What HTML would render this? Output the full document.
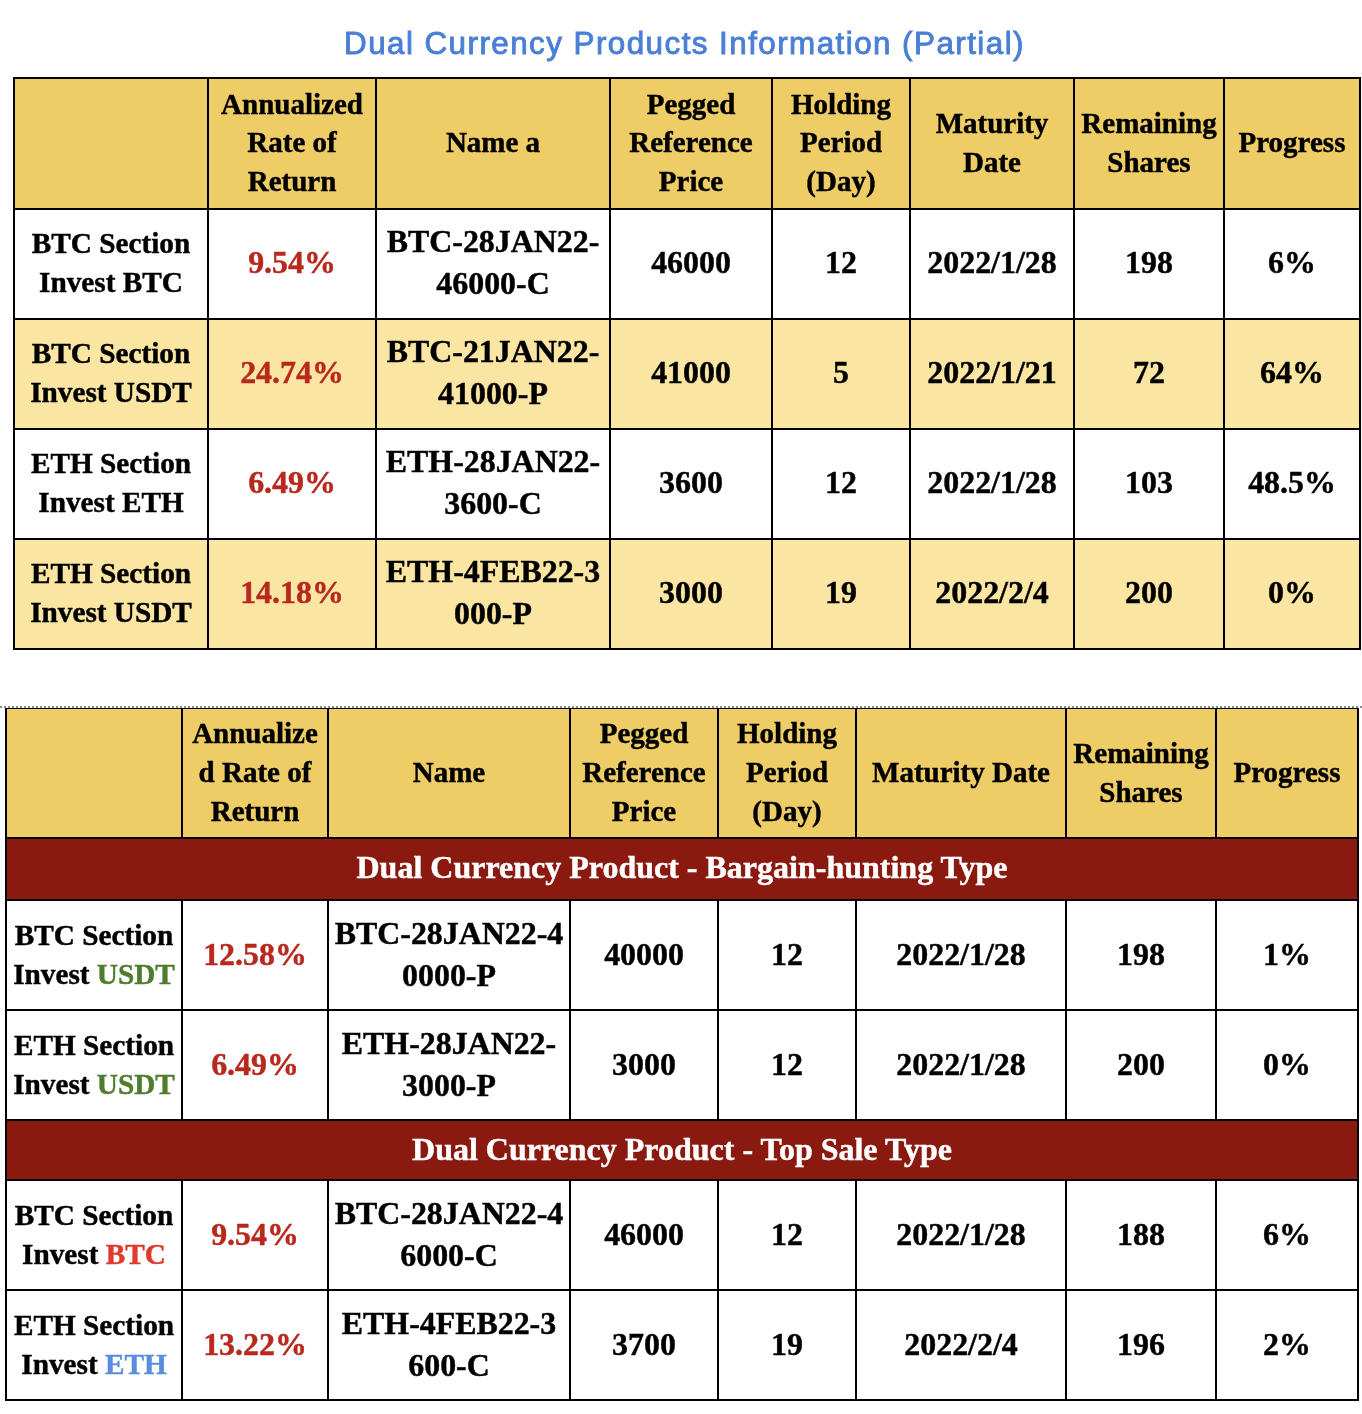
<!DOCTYPE html>
<html><head><meta charset="utf-8"><title>Dual Currency Products Information</title>
<style>
html,body{margin:0;padding:0;background:#fff}
body{width:1362px;height:1414px;position:relative;overflow:hidden;font-family:"Liberation Serif", "Noto Serif CJK SC", serif;font-weight:bold;color:#000}
.c{position:absolute;display:flex;align-items:center;justify-content:center;text-align:center;white-space:nowrap;box-sizing:border-box}
.c span{display:block}
.bg{position:absolute}
.l{position:absolute;background:#000}
.c span{position:relative;-webkit-text-stroke:0.45px currentColor}
.h{font-size:29px;line-height:38.4px}
.h span{top:-1.1px}
.f{font-size:29.25px;line-height:38.7px}
.f span{top:-1.5px}
.b{font-size:31.9px;line-height:42.5px}
.b span{top:-1.0px}
.h2{line-height:38.8px}
.h2 span{top:-1.1px}
.f2{line-height:39.2px}
.f2 span{top:-0.2px}
.b2 span{top:0px}
.s{font-size:32px;line-height:39px;color:#fff}
.s span{top:-1.5px}
.title{position:absolute;left:1px;top:23px;width:1367px;text-align:center;font-family:"Liberation Sans","Noto Sans CJK SC",sans-serif;font-weight:normal;font-size:31.4px;letter-spacing:1.44px;-webkit-text-stroke:0.9px #4A7FD6;line-height:42px;color:#4A7FD6;white-space:nowrap}
.dot{position:absolute;left:0;top:706px;width:1362px;height:2px;background:repeating-linear-gradient(90deg,#8a8a8a 0,#8a8a8a 2px,transparent 2px,transparent 4px)}
</style></head><body>
<div class="title">Dual Currency Products Information (Partial)</div>
<div class="bg" style="left:14px;top:78px;width:1346px;height:131px;background:#EFCD66"></div>
<div class="c h h1" style="left:208px;top:78px;width:168px;height:131px;"><span style="">Annualized<br>Rate of<br>Return</span></div>
<div class="c h h1" style="left:376px;top:78px;width:234px;height:131px;"><span style="">Name a</span></div>
<div class="c h h1" style="left:610px;top:78px;width:162px;height:131px;"><span style="">Pegged<br>Reference<br>Price</span></div>
<div class="c h h1" style="left:772px;top:78px;width:138px;height:131px;"><span style="">Holding<br>Period<br>(Day)</span></div>
<div class="c h h1" style="left:910px;top:78px;width:164px;height:131px;line-height:38.7px"><span style="top:-0.9px">Maturity<br>Date</span></div>
<div class="c h h1" style="left:1074px;top:78px;width:150px;height:131px;line-height:38.7px"><span style="top:-0.9px">Remaining<br>Shares</span></div>
<div class="c h h1" style="left:1224px;top:78px;width:136px;height:131px;"><span style="">Progress</span></div>
<div class="c f f1" style="left:14px;top:209px;width:194px;height:110px;"><span style="">BTC Section<br>Invest BTC</span></div>
<div class="c b b1" style="left:208px;top:209px;width:168px;height:110px;"><span style="color:#B8281D">9.54%</span></div>
<div class="c b b1" style="left:376px;top:209px;width:234px;height:110px;"><span style="">BTC-28JAN22-<br>46000-C</span></div>
<div class="c b b1" style="left:610px;top:209px;width:162px;height:110px;"><span style="">46000</span></div>
<div class="c b b1" style="left:772px;top:209px;width:138px;height:110px;"><span style="">12</span></div>
<div class="c b b1" style="left:910px;top:209px;width:164px;height:110px;"><span style="">2022/1/28</span></div>
<div class="c b b1" style="left:1074px;top:209px;width:150px;height:110px;"><span style="">198</span></div>
<div class="c b b1" style="left:1224px;top:209px;width:136px;height:110px;"><span style="">6%</span></div>
<div class="bg" style="left:14px;top:319px;width:1346px;height:110px;background:#FAE5A2"></div>
<div class="c f f1" style="left:14px;top:319px;width:194px;height:110px;"><span style="">BTC Section<br>Invest USDT</span></div>
<div class="c b b1" style="left:208px;top:319px;width:168px;height:110px;"><span style="color:#B8281D">24.74%</span></div>
<div class="c b b1" style="left:376px;top:319px;width:234px;height:110px;"><span style="">BTC-21JAN22-<br>41000-P</span></div>
<div class="c b b1" style="left:610px;top:319px;width:162px;height:110px;"><span style="">41000</span></div>
<div class="c b b1" style="left:772px;top:319px;width:138px;height:110px;"><span style="">5</span></div>
<div class="c b b1" style="left:910px;top:319px;width:164px;height:110px;"><span style="">2022/1/21</span></div>
<div class="c b b1" style="left:1074px;top:319px;width:150px;height:110px;"><span style="">72</span></div>
<div class="c b b1" style="left:1224px;top:319px;width:136px;height:110px;"><span style="">64%</span></div>
<div class="c f f1" style="left:14px;top:429px;width:194px;height:110px;"><span style="">ETH Section<br>Invest ETH</span></div>
<div class="c b b1" style="left:208px;top:429px;width:168px;height:110px;"><span style="color:#B8281D">6.49%</span></div>
<div class="c b b1" style="left:376px;top:429px;width:234px;height:110px;"><span style="">ETH-28JAN22-<br>3600-C</span></div>
<div class="c b b1" style="left:610px;top:429px;width:162px;height:110px;"><span style="">3600</span></div>
<div class="c b b1" style="left:772px;top:429px;width:138px;height:110px;"><span style="">12</span></div>
<div class="c b b1" style="left:910px;top:429px;width:164px;height:110px;"><span style="">2022/1/28</span></div>
<div class="c b b1" style="left:1074px;top:429px;width:150px;height:110px;"><span style="">103</span></div>
<div class="c b b1" style="left:1224px;top:429px;width:136px;height:110px;"><span style="">48.5%</span></div>
<div class="bg" style="left:14px;top:539px;width:1346px;height:110px;background:#FAE5A2"></div>
<div class="c f f1" style="left:14px;top:539px;width:194px;height:110px;"><span style="">ETH Section<br>Invest USDT</span></div>
<div class="c b b1" style="left:208px;top:539px;width:168px;height:110px;"><span style="color:#B8281D">14.18%</span></div>
<div class="c b b1" style="left:376px;top:539px;width:234px;height:110px;"><span style="">ETH-4FEB22-3<br>000-P</span></div>
<div class="c b b1" style="left:610px;top:539px;width:162px;height:110px;"><span style="">3000</span></div>
<div class="c b b1" style="left:772px;top:539px;width:138px;height:110px;"><span style="">19</span></div>
<div class="c b b1" style="left:910px;top:539px;width:164px;height:110px;"><span style="">2022/2/4</span></div>
<div class="c b b1" style="left:1074px;top:539px;width:150px;height:110px;"><span style="">200</span></div>
<div class="c b b1" style="left:1224px;top:539px;width:136px;height:110px;"><span style="">0%</span></div>
<div class="l" style="left:13.0px;top:77.0px;width:1348px;height:2px"></div>
<div class="l" style="left:13.0px;top:208.0px;width:1348px;height:2px"></div>
<div class="l" style="left:13.0px;top:318.0px;width:1348px;height:2px"></div>
<div class="l" style="left:13.0px;top:428.0px;width:1348px;height:2px"></div>
<div class="l" style="left:13.0px;top:538.0px;width:1348px;height:2px"></div>
<div class="l" style="left:13.0px;top:648.0px;width:1348px;height:2px"></div>
<div class="l" style="left:13.0px;top:77.0px;width:2px;height:573.0px"></div>
<div class="l" style="left:207.0px;top:78px;width:2px;height:131px"></div>
<div class="l" style="left:207.0px;top:209px;width:2px;height:110px"></div>
<div class="l" style="left:207.0px;top:319px;width:2px;height:110px"></div>
<div class="l" style="left:207.0px;top:429px;width:2px;height:110px"></div>
<div class="l" style="left:207.0px;top:539px;width:2px;height:110px"></div>
<div class="l" style="left:375.0px;top:78px;width:2px;height:131px"></div>
<div class="l" style="left:375.0px;top:209px;width:2px;height:110px"></div>
<div class="l" style="left:375.0px;top:319px;width:2px;height:110px"></div>
<div class="l" style="left:375.0px;top:429px;width:2px;height:110px"></div>
<div class="l" style="left:375.0px;top:539px;width:2px;height:110px"></div>
<div class="l" style="left:609.0px;top:78px;width:2px;height:131px"></div>
<div class="l" style="left:609.0px;top:209px;width:2px;height:110px"></div>
<div class="l" style="left:609.0px;top:319px;width:2px;height:110px"></div>
<div class="l" style="left:609.0px;top:429px;width:2px;height:110px"></div>
<div class="l" style="left:609.0px;top:539px;width:2px;height:110px"></div>
<div class="l" style="left:771.0px;top:78px;width:2px;height:131px"></div>
<div class="l" style="left:771.0px;top:209px;width:2px;height:110px"></div>
<div class="l" style="left:771.0px;top:319px;width:2px;height:110px"></div>
<div class="l" style="left:771.0px;top:429px;width:2px;height:110px"></div>
<div class="l" style="left:771.0px;top:539px;width:2px;height:110px"></div>
<div class="l" style="left:909.0px;top:78px;width:2px;height:131px"></div>
<div class="l" style="left:909.0px;top:209px;width:2px;height:110px"></div>
<div class="l" style="left:909.0px;top:319px;width:2px;height:110px"></div>
<div class="l" style="left:909.0px;top:429px;width:2px;height:110px"></div>
<div class="l" style="left:909.0px;top:539px;width:2px;height:110px"></div>
<div class="l" style="left:1073.0px;top:78px;width:2px;height:131px"></div>
<div class="l" style="left:1073.0px;top:209px;width:2px;height:110px"></div>
<div class="l" style="left:1073.0px;top:319px;width:2px;height:110px"></div>
<div class="l" style="left:1073.0px;top:429px;width:2px;height:110px"></div>
<div class="l" style="left:1073.0px;top:539px;width:2px;height:110px"></div>
<div class="l" style="left:1223.0px;top:78px;width:2px;height:131px"></div>
<div class="l" style="left:1223.0px;top:209px;width:2px;height:110px"></div>
<div class="l" style="left:1223.0px;top:319px;width:2px;height:110px"></div>
<div class="l" style="left:1223.0px;top:429px;width:2px;height:110px"></div>
<div class="l" style="left:1223.0px;top:539px;width:2px;height:110px"></div>
<div class="l" style="left:1359.0px;top:77.0px;width:2px;height:573.0px"></div>
<div class="dot"></div>
<div class="bg" style="left:6px;top:708.5px;width:1352px;height:129.5px;background:#EFCD66"></div>
<div class="c h h2" style="left:182px;top:708.5px;width:146px;height:129.5px;"><span style="">Annualize<br>d Rate of<br>Return</span></div>
<div class="c h h2" style="left:328px;top:708.5px;width:242px;height:129.5px;"><span style="">Name</span></div>
<div class="c h h2" style="left:570px;top:708.5px;width:148px;height:129.5px;"><span style="">Pegged<br>Reference<br>Price</span></div>
<div class="c h h2" style="left:718px;top:708.5px;width:138px;height:129.5px;"><span style="">Holding<br>Period<br>(Day)</span></div>
<div class="c h h2" style="left:856px;top:708.5px;width:210px;height:129.5px;"><span style="">Maturity Date</span></div>
<div class="c h h2" style="left:1066px;top:708.5px;width:150px;height:129.5px;line-height:39px"><span style="top:-0.4px">Remaining<br>Shares</span></div>
<div class="c h h2" style="left:1216px;top:708.5px;width:142px;height:129.5px;"><span style="">Progress</span></div>
<div class="c s" style="left:6px;top:838px;width:1352px;height:62px;background:#8A1A10"><span style="">Dual Currency Product - Bargain-hunting Type</span></div>
<div class="c f f2" style="left:6px;top:900px;width:176px;height:110px;"><span style="">BTC Section<br>Invest <b style="color:#4E7D2E">USDT</b></span></div>
<div class="c b b2" style="left:182px;top:900px;width:146px;height:110px;"><span style="color:#B8281D">12.58%</span></div>
<div class="c b b2" style="left:328px;top:900px;width:242px;height:110px;"><span style="">BTC-28JAN22-4<br>0000-P</span></div>
<div class="c b b2" style="left:570px;top:900px;width:148px;height:110px;"><span style="">40000</span></div>
<div class="c b b2" style="left:718px;top:900px;width:138px;height:110px;"><span style="">12</span></div>
<div class="c b b2" style="left:856px;top:900px;width:210px;height:110px;"><span style="">2022/1/28</span></div>
<div class="c b b2" style="left:1066px;top:900px;width:150px;height:110px;"><span style="">198</span></div>
<div class="c b b2" style="left:1216px;top:900px;width:142px;height:110px;"><span style="">1%</span></div>
<div class="c f f2" style="left:6px;top:1010px;width:176px;height:110px;"><span style="">ETH Section<br>Invest <b style="color:#4E7D2E">USDT</b></span></div>
<div class="c b b2" style="left:182px;top:1010px;width:146px;height:110px;"><span style="color:#B8281D">6.49%</span></div>
<div class="c b b2" style="left:328px;top:1010px;width:242px;height:110px;"><span style="">ETH-28JAN22-<br>3000-P</span></div>
<div class="c b b2" style="left:570px;top:1010px;width:148px;height:110px;"><span style="">3000</span></div>
<div class="c b b2" style="left:718px;top:1010px;width:138px;height:110px;"><span style="">12</span></div>
<div class="c b b2" style="left:856px;top:1010px;width:210px;height:110px;"><span style="">2022/1/28</span></div>
<div class="c b b2" style="left:1066px;top:1010px;width:150px;height:110px;"><span style="">200</span></div>
<div class="c b b2" style="left:1216px;top:1010px;width:142px;height:110px;"><span style="">0%</span></div>
<div class="c s" style="left:6px;top:1120px;width:1352px;height:60px;background:#8A1A10"><span style="top:-1px">Dual Currency Product - Top Sale Type</span></div>
<div class="c f f2" style="left:6px;top:1180px;width:176px;height:110px;"><span style="">BTC Section<br>Invest <b style="color:#DF3A2C">BTC</b></span></div>
<div class="c b b2" style="left:182px;top:1180px;width:146px;height:110px;"><span style="color:#B8281D">9.54%</span></div>
<div class="c b b2" style="left:328px;top:1180px;width:242px;height:110px;"><span style="">BTC-28JAN22-4<br>6000-C</span></div>
<div class="c b b2" style="left:570px;top:1180px;width:148px;height:110px;"><span style="">46000</span></div>
<div class="c b b2" style="left:718px;top:1180px;width:138px;height:110px;"><span style="">12</span></div>
<div class="c b b2" style="left:856px;top:1180px;width:210px;height:110px;"><span style="">2022/1/28</span></div>
<div class="c b b2" style="left:1066px;top:1180px;width:150px;height:110px;"><span style="">188</span></div>
<div class="c b b2" style="left:1216px;top:1180px;width:142px;height:110px;"><span style="">6%</span></div>
<div class="c f f2" style="left:6px;top:1290px;width:176px;height:110px;"><span style="">ETH Section<br>Invest <b style="color:#5B8DDF">ETH</b></span></div>
<div class="c b b2" style="left:182px;top:1290px;width:146px;height:110px;"><span style="color:#B8281D">13.22%</span></div>
<div class="c b b2" style="left:328px;top:1290px;width:242px;height:110px;"><span style="">ETH-4FEB22-3<br>600-C</span></div>
<div class="c b b2" style="left:570px;top:1290px;width:148px;height:110px;"><span style="">3700</span></div>
<div class="c b b2" style="left:718px;top:1290px;width:138px;height:110px;"><span style="">19</span></div>
<div class="c b b2" style="left:856px;top:1290px;width:210px;height:110px;"><span style="">2022/2/4</span></div>
<div class="c b b2" style="left:1066px;top:1290px;width:150px;height:110px;"><span style="">196</span></div>
<div class="c b b2" style="left:1216px;top:1290px;width:142px;height:110px;"><span style="">2%</span></div>
<div class="l" style="left:5.0px;top:708px;width:1354px;height:1px"></div>
<div class="l" style="left:5.0px;top:837.0px;width:1354px;height:2px"></div>
<div class="l" style="left:5.0px;top:899.0px;width:1354px;height:2px"></div>
<div class="l" style="left:5.0px;top:1009.0px;width:1354px;height:2px"></div>
<div class="l" style="left:5.0px;top:1119.0px;width:1354px;height:2px"></div>
<div class="l" style="left:5.0px;top:1179.0px;width:1354px;height:2px"></div>
<div class="l" style="left:5.0px;top:1289.0px;width:1354px;height:2px"></div>
<div class="l" style="left:5.0px;top:1399.0px;width:1354px;height:2px"></div>
<div class="l" style="left:5.0px;top:708px;width:2px;height:693.0px"></div>
<div class="l" style="left:181.0px;top:708.5px;width:2px;height:129.5px"></div>
<div class="l" style="left:181.0px;top:900px;width:2px;height:110px"></div>
<div class="l" style="left:181.0px;top:1010px;width:2px;height:110px"></div>
<div class="l" style="left:181.0px;top:1180px;width:2px;height:110px"></div>
<div class="l" style="left:181.0px;top:1290px;width:2px;height:110px"></div>
<div class="l" style="left:327.0px;top:708.5px;width:2px;height:129.5px"></div>
<div class="l" style="left:327.0px;top:900px;width:2px;height:110px"></div>
<div class="l" style="left:327.0px;top:1010px;width:2px;height:110px"></div>
<div class="l" style="left:327.0px;top:1180px;width:2px;height:110px"></div>
<div class="l" style="left:327.0px;top:1290px;width:2px;height:110px"></div>
<div class="l" style="left:569.0px;top:708.5px;width:2px;height:129.5px"></div>
<div class="l" style="left:569.0px;top:900px;width:2px;height:110px"></div>
<div class="l" style="left:569.0px;top:1010px;width:2px;height:110px"></div>
<div class="l" style="left:569.0px;top:1180px;width:2px;height:110px"></div>
<div class="l" style="left:569.0px;top:1290px;width:2px;height:110px"></div>
<div class="l" style="left:717.0px;top:708.5px;width:2px;height:129.5px"></div>
<div class="l" style="left:717.0px;top:900px;width:2px;height:110px"></div>
<div class="l" style="left:717.0px;top:1010px;width:2px;height:110px"></div>
<div class="l" style="left:717.0px;top:1180px;width:2px;height:110px"></div>
<div class="l" style="left:717.0px;top:1290px;width:2px;height:110px"></div>
<div class="l" style="left:855.0px;top:708.5px;width:2px;height:129.5px"></div>
<div class="l" style="left:855.0px;top:900px;width:2px;height:110px"></div>
<div class="l" style="left:855.0px;top:1010px;width:2px;height:110px"></div>
<div class="l" style="left:855.0px;top:1180px;width:2px;height:110px"></div>
<div class="l" style="left:855.0px;top:1290px;width:2px;height:110px"></div>
<div class="l" style="left:1065.0px;top:708.5px;width:2px;height:129.5px"></div>
<div class="l" style="left:1065.0px;top:900px;width:2px;height:110px"></div>
<div class="l" style="left:1065.0px;top:1010px;width:2px;height:110px"></div>
<div class="l" style="left:1065.0px;top:1180px;width:2px;height:110px"></div>
<div class="l" style="left:1065.0px;top:1290px;width:2px;height:110px"></div>
<div class="l" style="left:1215.0px;top:708.5px;width:2px;height:129.5px"></div>
<div class="l" style="left:1215.0px;top:900px;width:2px;height:110px"></div>
<div class="l" style="left:1215.0px;top:1010px;width:2px;height:110px"></div>
<div class="l" style="left:1215.0px;top:1180px;width:2px;height:110px"></div>
<div class="l" style="left:1215.0px;top:1290px;width:2px;height:110px"></div>
<div class="l" style="left:1357.0px;top:708px;width:2px;height:693.0px"></div>
</body></html>
